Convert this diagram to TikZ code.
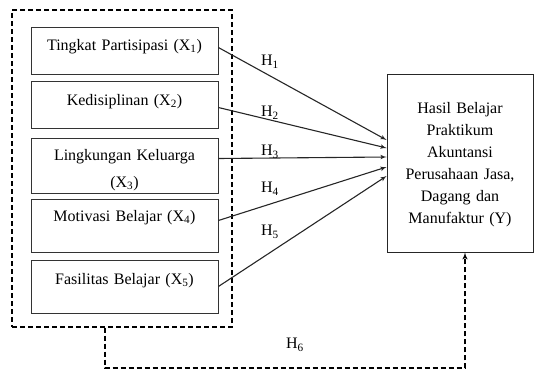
\documentclass[tikz,border=0pt]{standalone}
\usepackage{fontspec}
\setmainfont{Liberation Serif}
\usetikzlibrary{arrows}
\tikzset{
  var/.style={draw=black!80, line width=0.8pt, inner sep=0pt, text width=187pt, align=center, anchor=base},
  res/.style={draw=black!85, line width=0.8pt, inner sep=0pt, text width=146pt, align=center, anchor=base},
  grpbox/.style={draw, line width=1.4pt, dash pattern=on 5pt off 3pt, inner sep=0pt},
  hyp/.style={line width=1.1pt, draw=black!85, -latex'},
}
\begin{document}
\begin{tikzpicture}[x=1pt,y=-1pt,font=\fontsize{16pt}{22pt}\selectfont]
\useasboundingbox (0,0) rectangle (534,372);
% variabel bebas
\node[grpbox, minimum width=220pt, minimum height=317pt] (grp) at (122,168.5) {};
\node[var, text height=23pt, text depth=24pt] (x1) at (124.5,50) {Tingkat Partisipasi (X\textsubscript{1})};
\node[var, text height=24pt, text depth=23pt] (x2) at (124.5,105) {Kedisiplinan (X\textsubscript{2})};
\node[var, text height=22pt, text depth=33pt] (x3) at (124.5,160) {Lingkungan Keluarga\\[5pt](X\textsubscript{3})};
\node[var, text height=22pt, text depth=31pt] (x4) at (124.5,221) {Motivasi Belajar (X\textsubscript{4})};
\node[var, text height=24pt, text depth=29pt] (x5) at (124.5,284) {Fasilitas Belajar (X\textsubscript{5})};
% variabel terikat
\node[res, text height=39pt, text depth=139pt] (y) at (460,113) {Hasil Belajar\\Praktikum\\Akuntansi\\Perusahaan Jasa,\\Dagang dan\\Manufaktur (Y)};
% hipotesis
\draw[hyp] ([yshift=3pt]x1.east) -- ([yshift=23pt]y.west);
\draw[hyp] ([yshift=-3pt]x2.east) -- ([yshift=15pt]y.west);
\draw[hyp] ([yshift=7pt]x3.east) -- ([yshift=6pt]y.west);
\draw[hyp] ([yshift=5pt]x4.east) -- ([yshift=-4pt]y.west);
\draw[hyp] (x5.east) -- ([yshift=-13pt]y.west);
\node (h1) at (270,62) {H\textsubscript{1}};
\node (h2) at (270,113) {H\textsubscript{2}};
\node (h3) at (270,152) {H\textsubscript{3}};
\node (h4) at (270,189) {H\textsubscript{4}};
\node (h5) at (270,232) {H\textsubscript{5}};
\node (h6) at (295,345) {H\textsubscript{6}};
% simultan
\coordinate (c6) at (465,368);
\draw[line width=1.4pt, dash pattern=on 5pt off 3pt, -latex'] ([xshift=-17pt]grp.south) |- (c6) -- ([xshift=5pt]y.south);
\end{tikzpicture}
\end{document}
